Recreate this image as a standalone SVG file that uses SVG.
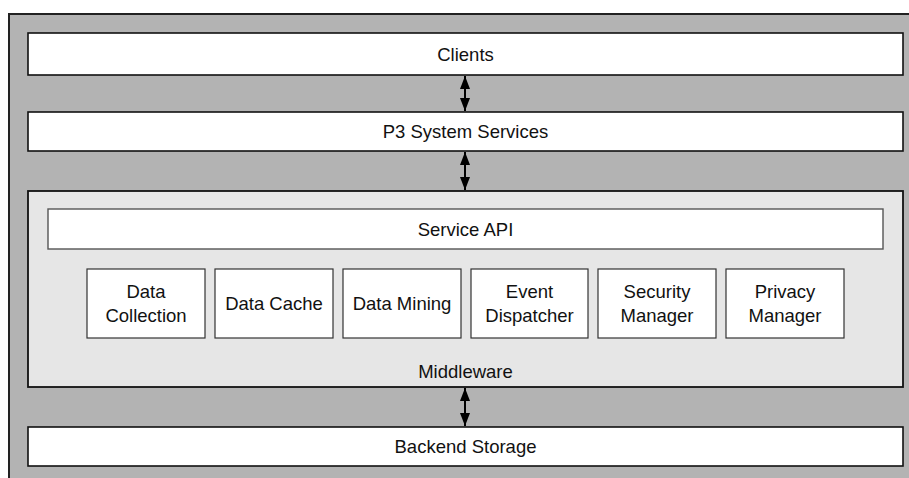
<svg xmlns="http://www.w3.org/2000/svg" width="909" height="478" viewBox="0 0 909 478">
<style>
  .bar { fill: #ffffff; stroke: #111111; stroke-width: 1.6; }
  .mod { fill: #ffffff; stroke: #333333; stroke-width: 1.2; }
  .api { fill: #ffffff; stroke: #555555; stroke-width: 1.4; }
  .mw { fill: #e6e6e6; stroke: #111111; stroke-width: 1.8; }
  text { font-family: "Liberation Sans", Arial, sans-serif; font-size: 18.5px; fill: #111111; text-anchor: middle; }
  .conn { stroke: #000000; stroke-width: 2; fill: none; }
</style>
<defs>
  <marker id="ah" markerUnits="userSpaceOnUse" markerWidth="13" markerHeight="10" refX="13" refY="5" orient="auto-start-reverse">
    <path d="M0,0 L13,5 L0,10 z" fill="#000000"/>
  </marker>
</defs>
<rect x="9" y="14" width="920" height="480" fill="#b3b3b3" stroke="#222222" stroke-width="2"/>

<g id="clients">
  <rect class="bar" x="28" y="33" width="875" height="42"/>
  <text x="465.5" y="61">Clients</text>
</g>
<g id="p3">
  <rect class="bar" x="28" y="112" width="875" height="39"/>
  <text x="465.5" y="138">P3 System Services</text>
</g>
<g id="middleware">
  <rect class="mw" x="28" y="191" width="875" height="196"/>
  <text x="465.5" y="378">Middleware</text>
</g>
<g id="service-api">
  <rect class="api" x="48" y="209" width="835" height="40"/>
  <text x="465.5" y="236">Service API</text>
</g>
<g id="data-collection">
  <rect class="mod" x="87" y="269" width="118" height="69"/>
  <text x="146" y="298">Data</text>
  <text x="146" y="321.5">Collection</text>
</g>
<g id="data-cache">
  <rect class="mod" x="215" y="269" width="118" height="69"/>
  <text x="274" y="310">Data Cache</text>
</g>
<g id="data-mining">
  <rect class="mod" x="343" y="269" width="118" height="69"/>
  <text x="402" y="310">Data Mining</text>
</g>
<g id="event-dispatcher">
  <rect class="mod" x="471" y="269" width="117" height="69"/>
  <text x="529.5" y="298">Event</text>
  <text x="529.5" y="321.5">Dispatcher</text>
</g>
<g id="security-manager">
  <rect class="mod" x="598" y="269" width="118" height="69"/>
  <text x="657" y="298">Security</text>
  <text x="657" y="321.5">Manager</text>
</g>
<g id="privacy-manager">
  <rect class="mod" x="726" y="269" width="118" height="69"/>
  <text x="785" y="298">Privacy</text>
  <text x="785" y="321.5">Manager</text>
</g>
<g id="backend-storage">
  <rect class="bar" x="28" y="427" width="875" height="39"/>
  <text x="465.5" y="453">Backend Storage</text>
</g>

<g id="connectors">
  <line class="conn" x1="465" y1="76" x2="465" y2="111" marker-start="url(#ah)" marker-end="url(#ah)"/>
  <line class="conn" x1="465" y1="152" x2="465" y2="190" marker-start="url(#ah)" marker-end="url(#ah)"/>
  <line class="conn" x1="465" y1="388" x2="465" y2="426" marker-start="url(#ah)" marker-end="url(#ah)"/>
</g>
</svg>
